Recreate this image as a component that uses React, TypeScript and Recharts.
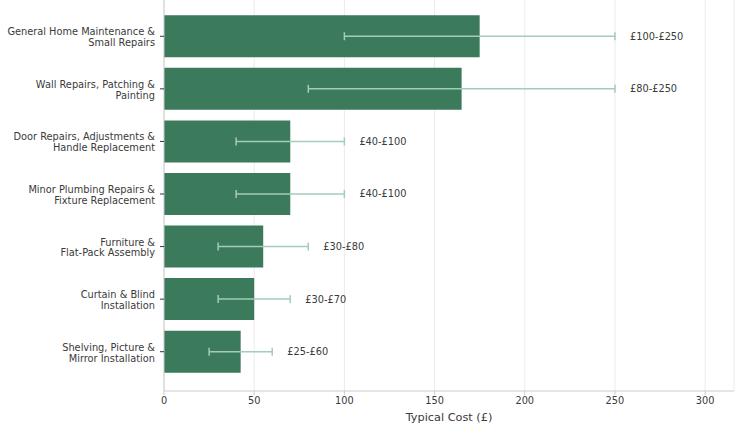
import { BarChart, Bar, XAxis, YAxis, CartesianGrid, ErrorBar, LabelList } from "recharts";

const categories = [
  "General Home Maintenance &\nSmall Repairs",
  "Wall Repairs, Patching &\nPainting",
  "Door Repairs, Adjustments &\nHandle Replacement",
  "Minor Plumbing Repairs &\nFixture Replacement",
  "Furniture &\nFlat-Pack Assembly",
  "Curtain & Blind\nInstallation",
  "Shelving, Picture &\nMirror Installation",
];
const lowCost = [100, 80, 40, 40, 30, 30, 25];
const highCost = [250, 250, 100, 100, 80, 70, 60];
const xTicks = [0, 50, 100, 150, 200, 250, 300];

const data = categories.map((name, i) => {
  const mid = (lowCost[i] + highCost[i]) / 2;
  return {
    name,
    mid,
    err: [mid - lowCost[i], highCost[i] - mid],
    rest: highCost[i] - mid,
    range: `£${lowCost[i]}-£${highCost[i]}`,
  };
});

const FONT = "'DejaVu Sans', sans-serif";
const TEXT = "#3a3a3a";

function CategoryTick(props: any) {
  const { x, y, payload } = props;
  const lines = String(payload.value).split("\n");
  const lh = 10.8;
  const start = -((lines.length - 1) * lh) / 2 + 1;
  return (
    <text x={x - 3} y={y} textAnchor="end" fontSize={9.8} fill={TEXT} fontFamily={FONT}>
      {lines.map((l, i) => (
        <tspan key={i} x={x - 3} y={y + start + i * lh} dy="0.35em">
          {l}
        </tspan>
      ))}
    </text>
  );
}

export default function App() {
  return (
    <div style={{ position: "absolute", left: 0, top: 0 }}>
      <BarChart
        width={735}
        height={434}
        data={data}
        layout="vertical"
        margin={{ top: 0, right: 1, bottom: 13, left: 0 }}
        barCategoryGap="10%"
      >
        <CartesianGrid horizontal={false} stroke="#ebebeb" />
        <XAxis
          type="number"
          domain={[0, 316]}
          ticks={xTicks}
          allowDataOverflow
          height={30}
          stroke="#ccc"
          tickSize={4}
          tick={{ fontSize: 9.8, fill: TEXT, fontFamily: FONT }}
          label={{
            value: "Typical Cost (£)",
            position: "insideBottom",
            offset: 0,
            fontSize: 11.3,
            fill: TEXT,
            fontFamily: FONT,
          }}
        />
        <YAxis
          type="category"
          dataKey="name"
          width={164}
          stroke="#ccc"
          tickSize={4}
          tickLine={{ stroke: "#333" }}
          tick={<CategoryTick />}
          padding={{ top: 10, bottom: 13 }}
          interval={0}
        />
        <Bar dataKey="mid" stackId="a" fill="#3b7a5a" isAnimationActive={false}>
          <ErrorBar dataKey="err" direction="x" width={4} stroke="#a3cdb8" strokeWidth={1.5} />
        </Bar>
        <Bar dataKey="rest" stackId="a" fill="transparent" isAnimationActive={false}>
          <LabelList
            dataKey="range"
            position="right"
            offset={15}
            fontSize={9.8}
            fill={TEXT}
            fontFamily={FONT}
          />
        </Bar>
      </BarChart>
    </div>
  );
}
